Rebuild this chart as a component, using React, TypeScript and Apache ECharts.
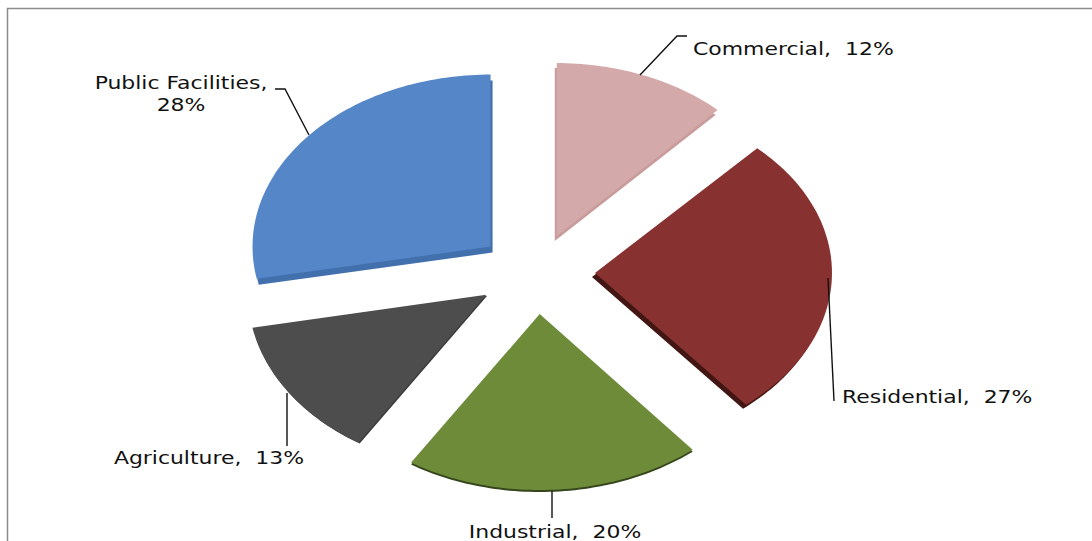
import React, { useEffect, useRef } from "react";
import * as echarts from "echarts";

// Land use shares, clockwise from twelve o'clock
const categories = ["Commercial", "Residential", "Industrial", "Agriculture", "Public Facilities"];
const shares = [12, 27, 20, 13, 28];

// Slice appearance, in the same order as the categories
const topColors = ["#D4A9A9", "#873231", "#6E8B3A", "#4D4D4D", "#5586C8"];
const wallColors = ["#C99C9C", "#421612", "#36461C", "#3A3A3A", "#4270AC"];
const wallShift = [[-2, 5], [-3, 4], [0, 2], [1, 1], [2, 6]];

// Tilted pie geometry
const CX = 536;
const CY = 274.7;
const RX = 238;
const RY = 175;
const EXPLODE_X = 59;
const EXPLODE_Y = 39.4;

// Small per-slice perspective corrections: dx, dy, d(rx), d(ry)
const perspective = [[-1, -2, -3, -2], [0, -3, -1, -4], [0, 0, 2, 1], [-1, -2, 0, 0], [0, -3, 0, -3]];

// Label anchors and their leader lines
const labelPos = [[693, 49, "left"], [842, 397, "left"], [555, 532, "center"], [209, 458, "center"], [181, 94, "center"]];
const leaders = [
  [[687, 36], [677, 36], [640, 75]],
  [[828, 278], [834, 401]],
  [[552, 491], [552, 518]],
  [[287, 393], [287, 446]],
  [[275, 89], [285, 89], [309, 135]],
];

const FONT = '"DejaVu Sans", sans-serif';
const TEXT_STRETCH = 1.29;
const total = shares.reduce((a, b) => a + b, 0);

function renderSlice(params: any, api: any) {
  const i = params.dataIndex;
  const share = api.value(1);
  const before = shares.slice(0, i).reduce((a, b) => a + b, 0);
  const a0 = (before / total) * Math.PI * 2;
  const a1 = ((before + share) / total) * Math.PI * 2;
  const mid = (a0 + a1) / 2;
  const [pdx, pdy, prx, pry] = perspective[i];
  const ox = CX + Math.sin(mid) * EXPLODE_X + pdx;
  const oy = CY - Math.cos(mid) * EXPLODE_Y + pdy;
  const outline: number[][] = [[ox, oy]];
  const steps = Math.max(12, Math.round(share * 3));
  for (let s = 0; s <= steps; s++) {
    const a = a0 + ((a1 - a0) * s) / steps;
    outline.push([ox + Math.sin(a) * (RX + prx), oy - Math.cos(a) * (RY + pry)]);
  }
  const [dx, dy] = wallShift[i];
  const name = categories[i];
  const [lx, ly, align] = labelPos[i] as [number, number, string];
  const text = i === 4 ? `${name},\n${share}%` : `${name},  ${share}%`;
  return {
    type: "group",
    children: [
      {
        type: "polygon",
        shape: { points: outline.map(([x, y]) => [x + dx, y + dy]) },
        style: { fill: wallColors[i] },
      },
      { type: "polygon", shape: { points: outline }, style: { fill: topColors[i] } },
      {
        type: "polyline",
        shape: { points: leaders[i] },
        style: { fill: "none", stroke: "#111111", lineWidth: 1.4 },
      },
      {
        type: "text",
        x: lx,
        y: ly,
        scaleX: TEXT_STRETCH,
        style: {
          text,
          fill: "#111111",
          font: `17px ${FONT}`,
          align,
          verticalAlign: "middle",
          lineHeight: i === 4 ? 22 : 17,
        },
      },
    ],
  };
}

export default function App() {
  const ref = useRef<HTMLDivElement>(null);
  useEffect(() => {
    document.body.style.margin = "0";
    const chart = echarts.init(ref.current!, undefined, { renderer: "svg" });
    chart.setOption({
      animation: false,
      backgroundColor: "#FFFFFF",
      graphic: [
        {
          type: "polyline",
          silent: true,
          shape: { points: [[7.5, 541], [7.5, 8.5], [1092, 8.5]] },
          style: { fill: "none", stroke: "#8C8C8C", lineWidth: 1.5 },
        },
      ],
      series: [
        {
          type: "custom",
          coordinateSystem: "none",
          renderItem: renderSlice,
          data: categories.map((c, i) => [c, shares[i]]),
        },
      ],
    });
    return () => chart.dispose();
  }, []);
  return <div ref={ref} style={{ width: 1092, height: 541 }} />;
}
